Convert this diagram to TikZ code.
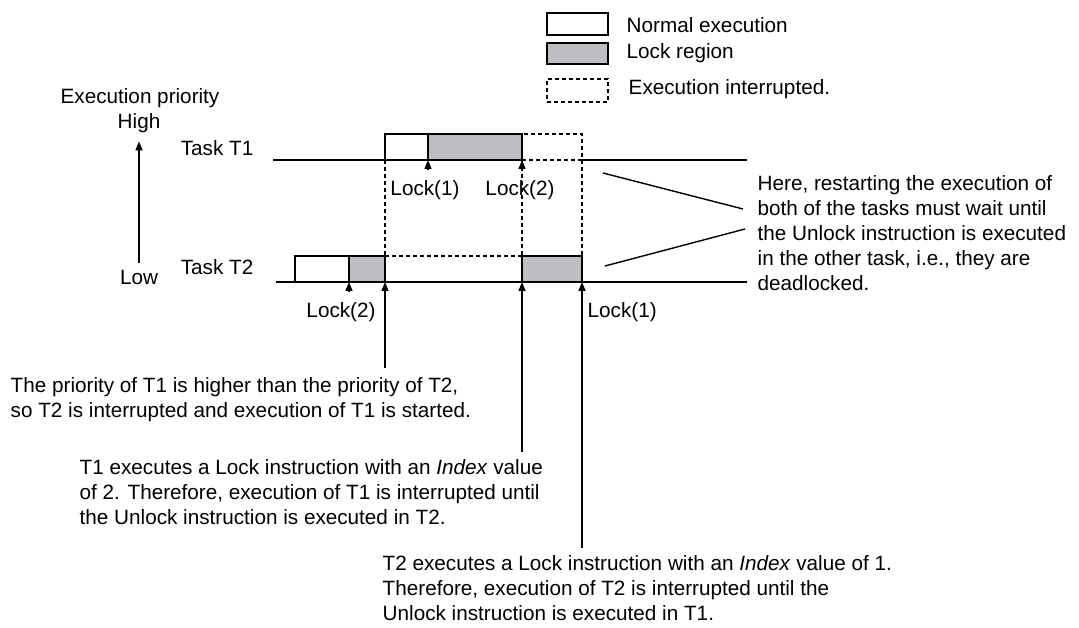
\documentclass[tikz,border=0pt]{standalone}
\usepackage{fontspec}
\setmainfont{Liberation Sans}
\usetikzlibrary{arrows.meta}
\definecolor{lockgray}{RGB}{189,190,193}
\begin{document}
\begin{tikzpicture}[x=1pt,y=-1pt,line width=1.4pt,
  txt/.style={font=\fontsize{20.7}{25}\selectfont, inner sep=0pt},
  box/.style={draw, line width=1.4pt, inner sep=0pt, outer sep=0pt, anchor=south west},
  normalbox/.style={box, fill=white},
  lockbox/.style={box, fill=lockgray},
  intrbox/.style={box, dash pattern=on 4pt off 3pt},
  dsh/.style={dash pattern=on 4pt off 3pt},
  arr/.style={-{Triangle[width=7pt,length=9pt]}},
  tick/.style={-{Triangle[width=7pt,length=9pt]}}]
\useasboundingbox (0,0) rectangle (1079,628);

% legend
\node[normalbox, anchor=north west, minimum width=61pt, minimum height=22pt] (lgn) at (547,13) {};
\node[lockbox, anchor=north west, minimum width=61pt, minimum height=21pt] (lgl) at (547,43) {};
\node[intrbox, anchor=north west, minimum width=61pt, minimum height=23pt] (lgi) at (547,79) {};
\node[txt, anchor=west] (lgnt) at (626,25) {Normal execution};
\node[txt, anchor=west] (lglt) at (626,53) {Lock region};
\node[txt, anchor=west] (lgit) at (628,89) {Execution interrupted.};

% priority axis
\node[txt] (ep) at (140,98) {Execution priority};
\node[txt] (high) at (139,123) {High};
\node[txt] (low) at (139,277) {Low};
\draw[arr] ([yshift=6pt]low.north) -- ([yshift=-8pt]high.south);

\node[txt, anchor=east] (task1) at (254,148) {Task T1};
\node[txt, anchor=east] (task2) at (254,267) {Task T2};

% time lines
\coordinate (t1s) at (273,160);
\coordinate (t1e) at (747,160);
\coordinate (t2s) at (276,282);
\coordinate (t2e) at (747,282);
\draw (t2s) -- (t2e);

% task T1 boxes
\node[normalbox, minimum width=43pt, minimum height=26pt] (t1a) at (385,160) {};
\node[lockbox, minimum width=94pt, minimum height=26pt] (t1b) at (428,160) {};
\node[intrbox, minimum width=60pt, minimum height=26pt] (t1c) at (522,160) {};
\draw (t1s) -- (t1c.south west);
\draw (t1c.south east) -- (t1e);

% task T2 boxes
\node[normalbox, minimum width=54pt, minimum height=26pt] (t2a) at (295,282) {};
\node[lockbox, minimum width=36pt, minimum height=26pt] (t2b) at (349,282) {};
\node[lockbox, minimum width=60pt, minimum height=26pt] (t2c) at (522,282) {};

% interrupted paths
\draw[dsh] (t1a.south west) -- (t2b.north east);
\draw[dsh] (t2b.north east) -- (t2c.north west);
\draw[dsh] (t1c.south west) -- (t2c.north west);
\draw[dsh] (t1c.south east) -- (t2c.north east);

% lock ticks
\draw[tick] ([yshift=-9pt]t1b.south west) -- (t1b.south west);
\draw[tick] ([yshift=-9pt]t1c.south west) -- (t1c.south west);
\draw[tick] ([yshift=-9pt]t2b.south west) -- (t2b.south west);

\node[txt] (l11) at (425,190) {Lock(1)};
\node[txt] (l12) at (520,190) {Lock(2)};
\node[txt] (l22) at (341,312) {Lock(2)};
\node[txt, anchor=west] (l21) at (587,312) {Lock(1)};

% note on the right
\node[txt, anchor=north west, align=left] (note) at (757,175) {Here, restarting the execution of\\both of the tasks must wait until\\the Unlock instruction is executed\\in the other task, i.e., they are\\deadlocked.};
\coordinate (s1a) at (603,173);
\coordinate (s1b) at (743,209);
\coordinate (s2a) at (605,266);
\coordinate (s2b) at (745,229);
\draw (s1a) -- (s1b);
\draw (s2a) -- (s2b);

% comments
\node[txt, anchor=north west, align=left] (c1) at (10,377) {The priority of T1 is higher than the priority of T2,\\so T2 is interrupted and execution of T1 is started.};
\node[txt, anchor=north west, align=left] (c2) at (79,459) {T1 executes a Lock instruction with an \textit{Index} value\\of 2. Therefore, execution of T1 is interrupted until\\the Unlock instruction is executed in T2.};
\node[txt, anchor=north west, align=left] (c3) at (382,555) {T2 executes a Lock instruction with an \textit{Index} value of 1.\\Therefore, execution of T2 is interrupted until the\\Unlock instruction is executed in T1.};

\coordinate (a1) at (385,368);
\coordinate (a2) at (522,452);
\coordinate (a3) at (582,548);
\draw[arr] (a1) -- (t2b.south east);
\draw[arr] (a2) -- (t2c.south west);
\draw[arr] (a3) -- (t2c.south east);
\end{tikzpicture}
\end{document}
